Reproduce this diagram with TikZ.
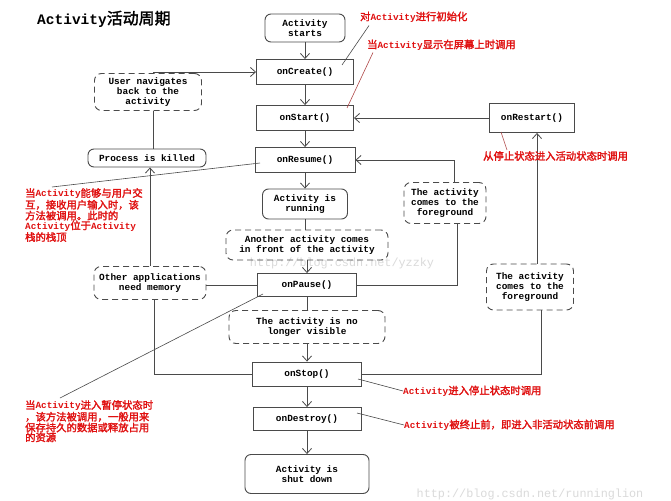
\documentclass[tikz,border=0pt]{standalone}
\usepackage{fontspec}
\setmonofont{Liberation Mono}
\newfontfamily\cjk[Scale=1.1,AutoFakeBold=2]{Noto Sans CJK SC}
\usetikzlibrary{arrows.meta,positioning,calc}
\definecolor{wire}{HTML}{4A4A4A}
\definecolor{redtxt}{HTML}{E01010}
\definecolor{redline}{HTML}{B04848}
\definecolor{wmark}{HTML}{DADADA}
\newcommand{\act}{{\ttfamily Activity}}

\begin{document}
\begin{tikzpicture}[x=1pt,y=-1pt,>={Straight Barb[length=5pt,width=9pt]},
   bx/.style={draw=wire,line width=0.9pt,align=center,inner sep=1pt,
     font=\ttfamily\bfseries\fontsize{9.4}{9.6}\selectfont},
   rbx/.style={bx,rounded corners=6pt},
   dbx/.style={bx,rounded corners=7pt,dash pattern=on 6pt off 4pt},
   remark/.style={inner sep=0pt,align=left,text=redtxt,
     font=\cjk\bfseries\fontsize{9.4}{9.8}\selectfont},
   flow/.style={draw=wire,line width=0.8pt},
   pin/.style={draw=wire,line width=0.6pt},
   redpin/.style={draw=redline,line width=0.6pt}]
  \useasboundingbox[fill=white] (0,0) rectangle (671,500);
  % watermarks
  \node[text=wmark,font=\ttfamily\fontsize{11.8}{12}\selectfont] (wm1) at (342,263) {http://blog.csdn.net/yzzky};
  \node[text=wmark,font=\ttfamily\fontsize{11.8}{12}\selectfont] (wm2) at (530,494) {http://blog.csdn.net/runninglion};
  \node[anchor=west,inner sep=0pt,font=\cjk\bfseries\fontsize{14.5}{16}\selectfont] (title) at (37,19) {\act 活动周期};
  % main column
  \node[rbx,minimum width=80pt,minimum height=28pt] (begin) at (305,28) {Activity\\starts};
  \node[bx,minimum width=97pt,minimum height=25pt] (create) at (305,72) {onCreate()};
  \node[bx,minimum width=97pt,minimum height=25pt] (start) at (305,118) {onStart()};
  \node[bx,minimum width=100pt,minimum height=25pt] (resume) at (305,160) {onResume()};
  \node[rbx,minimum width=85pt,minimum height=30pt] (running) at (305,204) {Activity is\\running};
  \node[dbx,minimum width=162pt,minimum height=30pt] (front) at (307,245) {Another activity comes\\in front of the activity};
  \node[bx,minimum width=99pt,minimum height=23pt] (pause) at (307,285) {onPause()};
  \node[dbx,minimum width=156pt,minimum height=33pt] (hidden) at (307,327) {The activity is no\\longer visible};
  \node[bx,minimum width=109pt,minimum height=24pt] (stop) at (307,374) {onStop()};
  \node[bx,minimum width=108pt,minimum height=23pt] (destroy) at (307,419) {onDestroy()};
  \node[rbx,minimum width=124pt,minimum height=39pt] (shut) at (307,474) {Activity is\\shut down};
  % left side
  \node[dbx,minimum width=107pt,minimum height=37pt] (back) at (148,92) {User navigates\\back to the\\activity};
  \node[rbx,minimum width=118pt,minimum height=18pt] (killed) at (147,158) {Process is killed};
  \node[dbx,minimum width=112pt,minimum height=33pt] (memory) at (150,283) {Other applications\\need memory};
  % right side
  \node[bx,minimum width=85pt,minimum height=29pt] (restart) at (532,118) {onRestart()};
  \node[dbx,minimum width=82pt,minimum height=41pt] (fgA) at (445,203) {The activity\\comes to the\\foreground};
  \node[dbx,minimum width=87pt,minimum height=46pt] (fgB) at (530,287) {The activity\\comes to the\\foreground};

  \draw[flow,->] (begin) -- (create);
  \draw[flow,->] (create) -- (start);
  \draw[flow,->] (start) -- (resume);
  \draw[flow,->] (resume) -- (running);
  \draw[flow] (running.south) -- (running.south |- front.north);
  \draw[flow,->] (front) -- (pause);
  \draw[flow] (pause) -- (hidden);
  \draw[flow,->] (hidden) -- (stop);
  \draw[flow,->] (stop) -- (destroy);
  \draw[flow,->] (destroy) -- (shut);

  \draw[flow,->] ([xshift=5pt]back.north) |- (create.west);
  \draw[flow] ([xshift=5pt]back.south) -- ([xshift=5pt]back.south |- killed.north);
  \draw[flow,->] (memory.north) -- (memory.north |- killed.south);
  \draw[flow] (pause.west) -- (pause.west -| memory.east);
  \draw[flow] (stop.west) -| ([xshift=4pt]memory.south);

  \draw[flow] (pause.east) -| ([xshift=12pt]fgA.south);
  \draw[flow,->] ([xshift=9pt]fgA.north) |- (resume.east);
  \draw[flow] (stop.east) -| ([xshift=11pt]fgB.south);
  \draw[flow,->] ([xshift=7pt]fgB.north) -- ([xshift=5pt]restart.south);
  \draw[flow,->] (restart) -- (start);

  % red remarks
  \node[remark,anchor=west] (n1) at (360,17) {对\act 进行初始化};
  \node[remark,anchor=west] (n2) at (367,45) {当\act 显示在屏幕上时调用};
  \node[remark,anchor=west] (n3) at (483,156) {从停止状态进入活动状态时调用};
  \node[remark,anchor=north west] (n4) at (25,188) {当\act 能够与用户交\\互，接收用户输入时，该\\方法被调用。此时的\\\act 位于\act\\栈的栈顶};
  \node[remark,anchor=north west] (n5) at (25,400) {当\act 进入暂停状态时\\，该方法被调用，一般用来\\保存持久的数据或释放占用\\的资源};
  \node[remark,anchor=west] (n6) at (403,391) {\act 进入停止状态时调用};
  \node[remark,anchor=west] (n7) at (404,425) {\act 被终止前，即进入非活动状态前调用};

  \coordinate (p1) at (342,65);
  \coordinate (p2) at (347,108);
  \coordinate (p3) at (501,132);
  \coordinate (p4) at (260,163);
  \coordinate (p5) at (263,294);
  \coordinate (p6) at (358,379);
  \coordinate (p7) at (357,413);
  \draw[pin] (p1) -- ([xshift=9pt,yshift=-3pt]n1.south west);
  \draw[redpin] (p2) -- ([xshift=6pt,yshift=-2pt]n2.south west);
  \draw[redpin] (p3) -- ([xshift=24pt,yshift=1pt]n3.north west);
  \draw[pin] (p4) -- ([xshift=27pt,yshift=1pt]n4.north west);
  \draw[pin] (p5) -- ([xshift=35pt,yshift=2pt]n5.north west);
  \draw[pin] (p6) -- (n6.west);
  \draw[pin] (p7) -- (n7.west);
\end{tikzpicture}
\end{document}
